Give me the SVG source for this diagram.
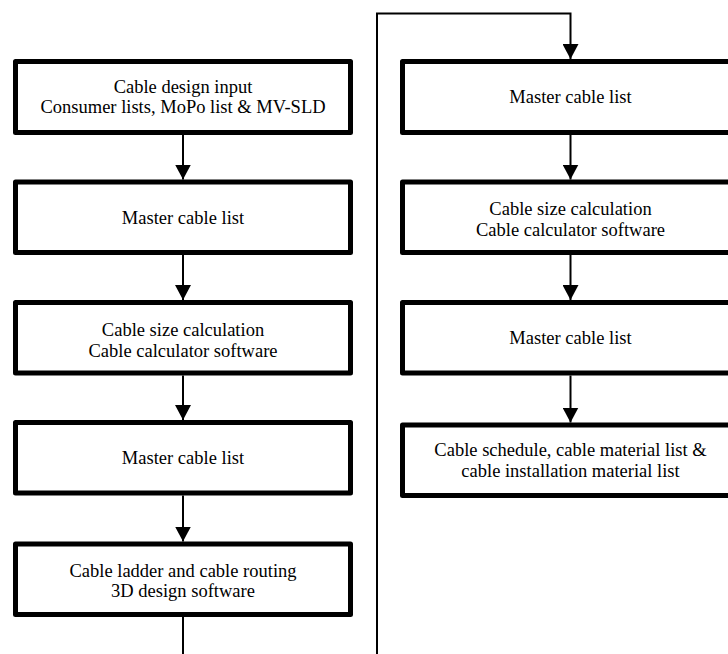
<svg xmlns="http://www.w3.org/2000/svg" width="728" height="654" viewBox="0 0 728 654">
<style>
.box{fill:#fff;stroke:#000;stroke-width:5;stroke-linejoin:round}
.t{font-family:"Liberation Serif","Times New Roman",serif;font-size:18.5px;fill:#000;text-anchor:middle}
.c{fill:none;stroke:#000;stroke-width:2}
</style>
<defs>
<marker id="ah" viewBox="0 0 15 16" refX="15" refY="8" markerWidth="15" markerHeight="16" markerUnits="userSpaceOnUse" orient="auto">
<path d="M0,0 L15,8 L0,16 z" fill="#000"/>
</marker>
</defs>
<rect width="728" height="654" fill="#fff"/>
<g id="connectors">
<path class="c" d="M183,135 V179.5" marker-end="url(#ah)"/>
<path class="c" d="M183,255 V300" marker-end="url(#ah)"/>
<path class="c" d="M183,375.5 V420" marker-end="url(#ah)"/>
<path class="c" d="M183,495.5 V541.5" marker-end="url(#ah)"/>
<path class="c" d="M183,617 V654"/>
<path class="c" d="M377,654 V13.5 H570.5 V59" marker-end="url(#ah)"/>
<path class="c" d="M570.5,135 V179.5" marker-end="url(#ah)"/>
<path class="c" d="M570.5,255 V300" marker-end="url(#ah)"/>
<path class="c" d="M570.5,375.5 V422.5" marker-end="url(#ah)"/>
</g>
<g id="n1"><rect class="box" x="15.5" y="61.5" width="335" height="71"/><text class="t" x="183" y="92.5">Cable design input</text><text class="t" x="183" y="113">Consumer lists, MoPo list &amp; MV-SLD</text></g>
<g id="n2"><rect class="box" x="15.5" y="182" width="335" height="70.5"/><text class="t" x="183" y="224">Master cable list</text></g>
<g id="n3"><rect class="box" x="15.5" y="302.5" width="335" height="70.5"/><text class="t" x="183" y="336">Cable size calculation</text><text class="t" x="183" y="357">Cable calculator software</text></g>
<g id="n4"><rect class="box" x="15.5" y="422.5" width="335" height="70.5"/><text class="t" x="183" y="463.5">Master cable list</text></g>
<g id="n5"><rect class="box" x="15.5" y="544" width="335" height="70.5"/><text class="t" x="183" y="577">Cable ladder and cable routing</text><text class="t" x="183" y="597">3D design software</text></g>
<g id="n6"><rect class="box" x="402.5" y="61.5" width="335" height="71"/><text class="t" x="570.5" y="103">Master cable list</text></g>
<g id="n7"><rect class="box" x="402.5" y="182" width="335" height="70.5"/><text class="t" x="570.5" y="214.5">Cable size calculation</text><text class="t" x="570.5" y="235.5">Cable calculator software</text></g>
<g id="n8"><rect class="box" x="402.5" y="302.5" width="335" height="70.5"/><text class="t" x="570.5" y="344">Master cable list</text></g>
<g id="n9"><rect class="box" x="402.5" y="425" width="335" height="70.5"/><text class="t" x="570.5" y="456">Cable schedule, cable material list &amp;</text><text class="t" x="570.5" y="477">cable installation material list</text></g>
</svg>
